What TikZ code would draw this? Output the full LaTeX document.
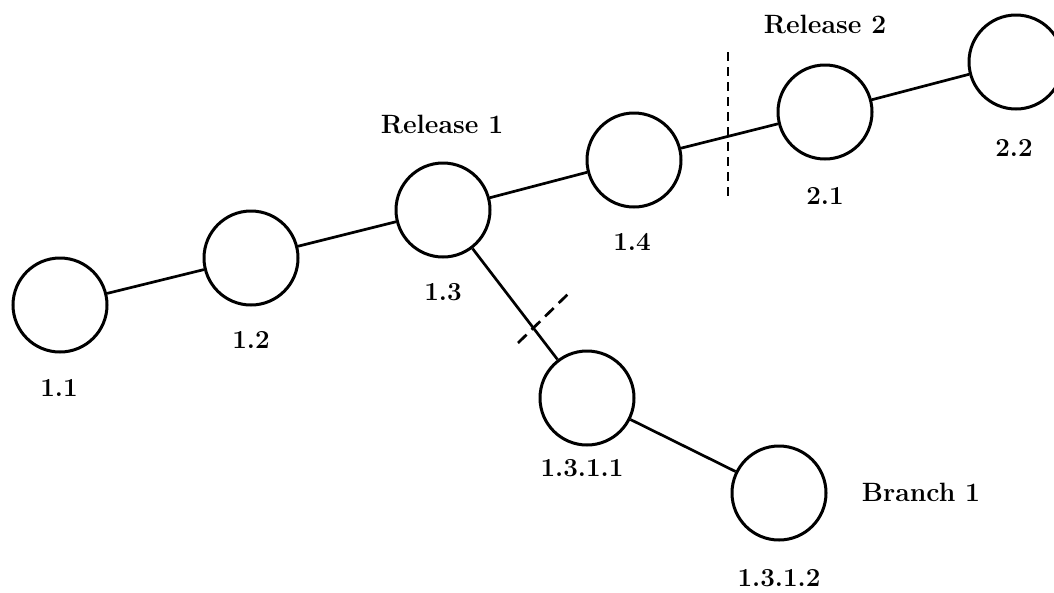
\documentclass[tikz,border=0pt]{standalone}
\begin{document}
\begin{tikzpicture}[x=1pt,y=-1pt,
  ver/.style={circle,draw,line width=3pt,minimum size=94pt,inner sep=0pt},
  edge/.style={line width=2.7pt},
  cut/.style={line width=2.7pt,dash pattern=on 9pt off 6pt},
  num/.style={font=\fontsize{26}{30}\selectfont\bfseries},
  lab/.style={font=\fontsize{26.5}{30}\selectfont\bfseries}]
\clip (0,0) rectangle (1054,592);
\useasboundingbox (0,0) rectangle (1054,592);
\node[ver] (n11) at (60,305) {};
\node[ver] (n12) at (251,258) {};
\node[ver] (n13) at (443,210) {};
\node[ver] (n14) at (634,160) {};
\node[ver] (n21) at (825,112) {};
\node[ver] (n22) at (1016,62) {};
\node[ver] (n1311) at (587,398) {};
\node[ver] (n1312) at (779,493) {};
\draw[edge] (n11) -- (n12);
\draw[edge] (n12) -- (n13);
\draw[edge] (n13) -- (n14);
\draw[edge] (n14) -- (n21);
\draw[edge] (n21) -- (n22);
\draw[edge] (n13) -- (n1311);
\draw[edge] (n1311) -- (n1312);
\coordinate (c1a) at (728,52);
\coordinate (c1b) at (728,198);
\draw[cut] (c1a) -- (c1b);
\coordinate (c2a) at (518,343);
\coordinate (c2b) at (569,293);
\draw[cut,dash pattern=on 12pt off 7pt] (c2a) -- (c2b);
\node[num] (l11) at (59,388) {1.1};
\node[num] (l12) at (251,340) {1.2};
\node[num] (l13) at (443,292) {1.3};
\node[num] (l14) at (632,242) {1.4};
\node[num] (l21) at (825,196) {2.1};
\node[num] (l22) at (1014,148) {2.2};
\node[num] (l1311) at (582,468) {1.3.1.1};
\node[num] (l1312) at (779,578) {1.3.1.2};
\node[lab] (r1) at (442,124) {Release 1};
\node[lab] (r2) at (825,24) {Release 2};
\node[lab] (b1) at (921,492) {Branch 1};
\end{tikzpicture}
\end{document}
